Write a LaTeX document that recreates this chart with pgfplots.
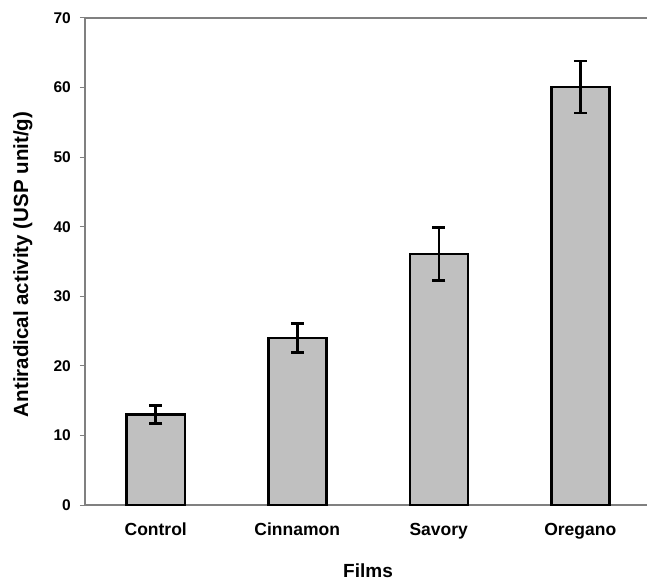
\documentclass[border=0pt]{standalone}
\usepackage{pgfplots}
\pgfplotsset{compat=1.18}
\usepackage{fontspec}
\setmainfont{Liberation Sans}
\definecolor{barfill}{RGB}{192,192,192}
\definecolor{axgray}{RGB}{128,128,128}
\begin{document}
\begin{tikzpicture}
\path[use as bounding box] (-85bp,-77bp) rectangle (562bp,505bp);
\begin{axis}[
  at={(0,0)}, anchor=south west,
  scale only axis, width=566bp, height=487bp,
  xmin=-0.5, xmax=3.5, ymin=0, ymax=70,
  axis x line*=bottom, axis y line*=left,
  axis line style={axgray, line width=2bp, -},
  xtick={0,1,2,3},
  xticklabels={Control,Cinnamon,Savory,Oregano},
  x tick style={draw=none},
  extra x ticks={0.5,1.5,2.5},
  extra x tick labels={},
  extra x tick style={major tick length=5bp, tick style={axgray, line width=1bp}},
  ytick={0,10,...,70},
  y tick style={axgray, line width=1bp},
  tick align=outside, major tick length=5bp,
  xtick pos=bottom, ytick pos=left,
  /pgf/number format/assume math mode=true,
  xticklabel style={font=\fontsize{17.5bp}{20bp}\selectfont\bfseries, anchor=base, yshift=-25bp},
  yticklabel style={font=\fontsize{15.5bp}{18bp}\selectfont\bfseries, anchor=east, inner sep=0pt, xshift=-9bp},
  xlabel={Films},
  ylabel={Antiradical activity (USP unit/g)},
  xlabel style={font=\fontsize{19bp}{22bp}\selectfont\bfseries, at={(axis description cs:0.5,-0.148)}, anchor=base, inner sep=0pt},
  ylabel style={font=\fontsize{20.5bp}{24bp}\selectfont\bfseries, at={(axis description cs:-0.1007,0.494)}, anchor=base, rotate=0},
  ybar, bar width=58bp,
  clip=false,
]
\addplot[fill=barfill, draw=black, line width=2.5bp,
  error bars/.cd, y dir=both, y explicit,
  error bar style={black, line width=2.5bp},
  error mark options={black, line width=2.5bp, mark size=6.5bp, rotate=90}]
  coordinates {
  (0,13.0) +- (0,1.3)
  (1,24.0) +- (0,2.1)
  (2,36.1) +- (0,3.8)
  (3,60.1) +- (0,3.75)
};
\draw[axgray, line width=2bp] (rel axis cs:0,1) -- (rel axis cs:1,1);
\end{axis}
\end{tikzpicture}
\end{document}
